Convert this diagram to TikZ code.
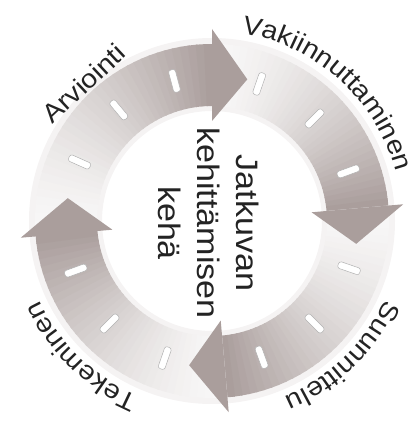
\documentclass[tikz,border=0pt]{standalone}
\usepackage{fontspec}
\usepackage{xcolor}
\usepackage{tikz}
\usetikzlibrary{decorations.text}
\newfontfamily\cyclefont[FakeStretch=1.1]{Liberation Sans}
\newcommand{\outerfont}{\cyclefont\fontsize{26}{30}\selectfont}
\newcommand{\centerfont}{\cyclefont\fontsize{31}{39}\selectfont}
\definecolor{ringgray}{RGB}{170,158,156}
\definecolor{inkgray}{RGB}{35,35,35}

\begin{document}
\begin{tikzpicture}[x=1pt, y=1pt,
  slot/.style={draw=black!30, fill=white, line width=0.5pt, rounded corners=2.5pt,
    minimum width=23pt, minimum height=7pt, inner sep=0pt},
  steplabel/.style={font=\outerfont, text=inkgray, inner sep=0pt},
  hubtext/.style={font=\centerfont, text=inkgray, align=center, inner sep=0pt}]

% ==========================================
% Canvas
% ==========================================
\useasboundingbox (0,0) rectangle (414,425);

\begin{scope}[shift={(212,204)}]

% faint halo under the ring
\fill[ringgray!12, even odd rule] (0,0) circle[radius=183pt] (0,0) circle[radius=110pt];

% ==========================================
% Arrow bodies (light tail -> dark head)
% ==========================================
\foreach \s/\b in {185/90, 90/5, 5/-85, -85/-175} {
  \foreach \i in {0,...,35} {
    \pgfmathsetmacro\aA{\s-(\s-\b)*\i/36}
    \pgfmathsetmacro\aB{\s-(\s-\b)*(\i+1)/36-0.6}
    \pgfmathsetmacro\mix{8+92*(\i/35)^1.5}
    \fill[ringgray!\mix] (\aA:115) arc[start angle=\aA, end angle=\aB, radius=115pt]
      -- (\aB:177) arc[start angle=\aB, end angle=\aA, radius=177pt] -- cycle;
  }
}

% ==========================================
% Arrow heads
% ==========================================
\foreach \b in {90, 5, -85, 185}
  \fill[ringgray] (\b:100) -- (\b:192) -- (\b-14:146) -- cycle;

% ==========================================
% Slots
% ==========================================
\foreach \b/\k in {90/a, 5/b, -85/c, 185/d}
  \foreach \o/\j in {15/1, 40/2, 66/3}
    \node[slot, rotate=\b+\o] (slot-\k\j) at (\b+\o:145) {};

% ==========================================
% Step labels
% ==========================================
\node[steplabel, rotate=43] (arviointi) at (133:188) {Arviointi};
\path[decorate, decoration={text along path, text={|\outerfont|Vakiinnuttaminen},
  text align=center, text color=inkgray}]
  (93:190) arc[start angle=93, end angle=3, radius=190pt];
\path[decorate, decoration={text along path, text={|\outerfont|Suunnittelu},
  text align=center, text color=inkgray}]
  (-1:190) arc[start angle=-1, end angle=-91, radius=190pt];
\path[decorate, decoration={text along path, text={|\outerfont|Tekeminen},
  text align=center, text color=inkgray}]
  (-89:190) arc[start angle=-89, end angle=-179, radius=190pt];

% Hub text
\node[hubtext, rotate=-90] (hub) at (-3,-2) {Jatkuvan\\kehittämisen\\kehä};

\end{scope}
\end{tikzpicture}
\end{document}
